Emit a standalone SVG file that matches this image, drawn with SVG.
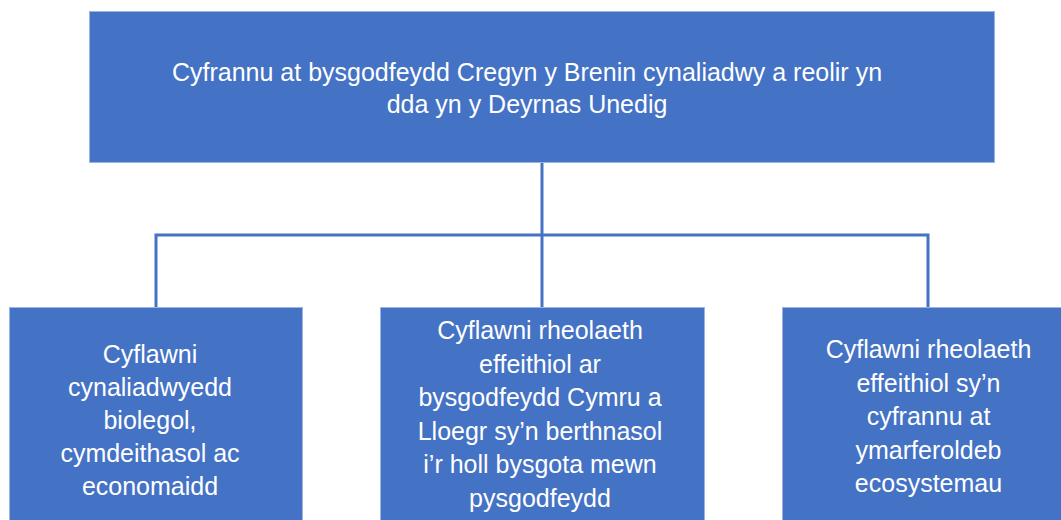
<svg xmlns="http://www.w3.org/2000/svg" width="1061" height="520" viewBox="0 0 1061 520">
<style>
.box{fill:#4472C4;stroke:#9DB4E0;stroke-width:1}
.t{font-family:"Liberation Sans",Arial,sans-serif;font-size:25px;fill:#FFFFFF;text-anchor:middle}
.c{stroke:#4472C4;stroke-width:3;fill:none}
</style>
<rect width="1061" height="520" fill="#FFFFFF"/>
<g id="connectors">
<line class="c" x1="542" y1="162" x2="542" y2="307"/>
<polyline class="c" points="156,307 156,235 928,235 928,307"/>
</g>
<g id="node-top">
<rect class="box" x="89.5" y="11.5" width="905" height="151"/>
<text class="t" x="527" y="81">Cyfrannu at bysgodfeydd Cregyn y Brenin cynaliadwy a reolir yn</text>
<text class="t" x="527" y="113">dda yn y Deyrnas Unedig</text>
</g>
<g id="node-left">
<rect class="box" x="9.5" y="307.5" width="293" height="220"/>
<text class="t" x="150" y="363">Cyflawni</text>
<text class="t" x="150" y="396">cynaliadwyedd</text>
<text class="t" x="150" y="429">biolegol,</text>
<text class="t" x="150" y="462">cymdeithasol ac</text>
<text class="t" x="150" y="495">economaidd</text>
</g>
<g id="node-middle">
<rect class="box" x="380.5" y="307.5" width="324" height="220"/>
<text class="t" x="540" y="339">Cyflawni rheolaeth</text>
<text class="t" x="540" y="373">effeithiol ar</text>
<text class="t" x="540" y="406">bysgodfeydd Cymru a</text>
<text class="t" x="540" y="440">Lloegr sy’n berthnasol</text>
<text class="t" x="540" y="473">i’r holl bysgota mewn</text>
<text class="t" x="540" y="507">pysgodfeydd</text>
</g>
<g id="node-right">
<rect class="box" x="782.5" y="307.5" width="293" height="220"/>
<text class="t" x="928.5" y="358">Cyflawni rheolaeth</text>
<text class="t" x="928.5" y="392">effeithiol sy’n</text>
<text class="t" x="928.5" y="425">cyfrannu at</text>
<text class="t" x="928.5" y="459">ymarferoldeb</text>
<text class="t" x="928.5" y="492">ecosystemau</text>
</g>
</svg>
